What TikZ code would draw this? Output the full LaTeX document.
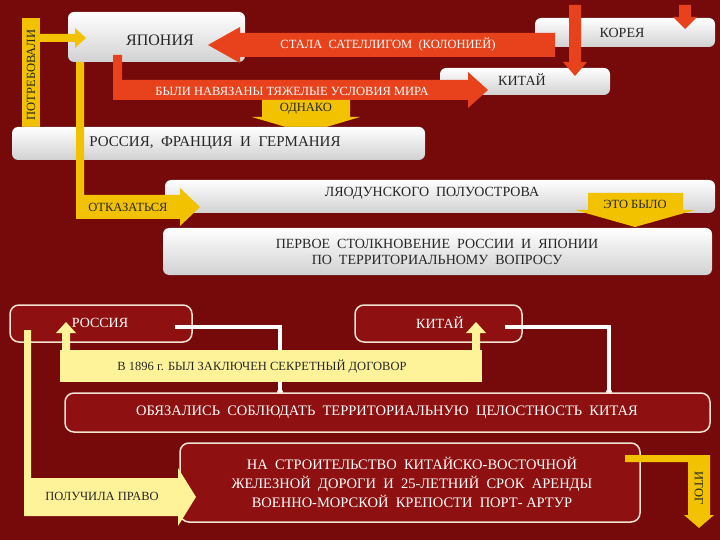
\documentclass[tikz,border=0pt]{standalone}
\usepackage{fontspec}
\setmainfont{Liberation Serif}
\begin{document}
\begin{tikzpicture}[x=1pt,y=-1pt,
  bx/.style={rounded corners=6pt,top color=white,bottom color=black!18,draw=none},
  rb/.style={rounded corners=9pt,fill=dred,draw=bord,line width=1.5pt},
  tx/.style={font=\fontsize{14}{15}\selectfont,text=black!85,align=center},
  wt/.style={font=\fontsize{14}{15}\selectfont,text=white,align=center},
  sm/.style={font=\fontsize{12.5}{13}\selectfont},
  redar/.style={fill=rarr,draw=none},
  yel/.style={fill=yarr,draw=none},
  lyel/.style={fill=lyarr,draw=none}]
\definecolor{bgc}{HTML}{760909}
\definecolor{dred}{HTML}{8E1010}
\definecolor{bord}{HTML}{F3E3D3}
\definecolor{rarr}{HTML}{E8421C}
\definecolor{yarr}{HTML}{F2C200}
\definecolor{lyarr}{HTML}{FFF39A}
\useasboundingbox (0,0) rectangle (720,540);
\fill[bgc] (0,0) rectangle (720,540);
% top boxes
\fill[bx] (68,12) rectangle (245,62);
\node[tx,font=\fontsize{16}{17}\selectfont] (jp) at (160,40) {ЯПОНИЯ};
\fill[bx] (535,18) rectangle (715,47);
\node[tx] (kr) at (622,33) {КОРЕЯ};
\fill[bx] (440,68) rectangle (610,95);
\node[tx] (cn) at (522,80) {КИТАЙ};
% red arrows
\fill[redar] (555,33) -- (240,33) -- (240,27) -- (208,45) -- (240,63) -- (240,57) -- (555,57) -- cycle;
\node[wt,sm] (sat) at (388,45) {СТАЛА \ САТЕЛЛИГОМ \ (КОЛОНИЕЙ)};
\fill[redar] (569,5) -- (581,5) -- (581,62) -- (587,62) -- (575,76) -- (563,62) -- (569,62) -- cycle;
\fill[redar] (679,5) -- (691,5) -- (691,17) -- (697,17) -- (685,29) -- (673,17) -- (679,17) -- cycle;
\fill[redar] (113,55) -- (122,55) -- (122,80) -- (468,80) -- (468,72) -- (488,90) -- (468,108) -- (468,100) -- (113,100) -- cycle;
\node[wt,sm] (mir) at (292,91) {БЫЛИ НАВЯЗАНЫ ТЯЖЕЛЫЕ УСЛОВИЯ МИРА};
% yellow left
\fill[yel] (22,18) rectangle (40,150);
\node[tx,sm,rotate=90] (potr) at (31,75) {ПОТРЕБОВАЛИ};
\fill[yel] (40,34) -- (75,34) -- (75,28) -- (86,38) -- (75,48) -- (75,42) -- (40,42) -- cycle;
% odnako
\fill[yel] (262,100) -- (350,100) -- (350,117) -- (360,117) -- (306,133) -- (252,117) -- (262,117) -- cycle;
\node[tx,sm] (odn) at (306,109) {ОДНАКО};
\fill[bx] (12,127) rectangle (425,160);
\node[tx,font=\fontsize{15}{16}\selectfont] (rfg) at (215,143) {РОССИЯ, \ ФРАНЦИЯ \ И \ ГЕРМАНИЯ};
% otkazatsya
\fill[bx] (165,180) rectangle (715,213);
\node[tx] (lyao) at (432,193) {ЛЯОДУНСКОГО \ ПОЛУОСТРОВА};
\fill[yel] (76,62) -- (84,62) -- (84,195) -- (180,195) -- (180,188) -- (200,207) -- (180,226) -- (180,219) -- (76,219) -- cycle;
\node[tx,sm] (otk) at (128,207) {ОТКАЗАТЬСЯ};
\fill[bx] (163,228) rectangle (712,275);
\fill[yel] (588,193) -- (683,193) -- (683,210) -- (695,210) -- (635,227) -- (575,210) -- (588,210) -- cycle;
\node[tx,sm] (eto) at (635,204) {ЭТО БЫЛО};
\node[tx,font=\fontsize{14}{16}\selectfont] (perv) at (437,252) {ПЕРВОЕ \ СТОЛКНОВЕНИЕ \ РОССИИ \ И \ ЯПОНИИ\\ПО \ ТЕРРИТОРИАЛЬНОМУ \ ВОПРОСУ};
% lower part
\draw[rb] (10,305) rectangle (192,342);
\node[wt] (ru) at (100,323) {РОССИЯ};
\draw[rb] (355,305) rectangle (522,342);
\node[wt] (cn2) at (440,323) {КИТАЙ};
% white connectors
\coordinate (w1) at (280,392);
\coordinate (w2) at (609,392);
\draw[white,line width=4pt] (175,327) -| (w1);
\fill[white] (w1) circle (3);
\draw[white,line width=4pt] (505,327) -| (w2);
\fill[white] (w2) circle (3);
% secret treaty
\fill[lyel] (60,350) rectangle (482,382);
\fill[lyel] (62,350) -- (62,333) -- (56,333) -- (66,322) -- (76,333) -- (70,333) -- (70,350) -- cycle;
\fill[lyel] (472,350) -- (472,333) -- (466,333) -- (476,322) -- (486,333) -- (480,333) -- (480,350) -- cycle;
\node[tx,sm] (dog) at (262,367) {В 1896 г. БЫЛ ЗАКЛЮЧЕН СЕКРЕТНЫЙ ДОГОВОР};
\draw[rb] (65,393) rectangle (710,432);
\node[wt,font=\fontsize{14.5}{15}\selectfont] (obz) at (387,412) {ОБЯЗАЛИСЬ \ СОБЛЮДАТЬ \ ТЕРРИТОРИАЛЬНУЮ \ ЦЕЛОСТНОСТЬ \ КИТАЯ};
\draw[rb] (180,443) rectangle (640,522);
% poluchila pravo
\fill[lyel] (24,330) -- (31,330) -- (31,478) -- (178,478) -- (178,468) -- (196,497) -- (178,526) -- (178,516) -- (24,516) -- cycle;
\node[tx,sm] (pol) at (102,496) {ПОЛУЧИЛА ПРАВО};
\node[wt,font=\fontsize{14.5}{19}\selectfont] (str) at (412,482) {НА \ СТРОИТЕЛЬСТВО \ КИТАЙСКО-ВОСТОЧНОЙ\\ЖЕЛЕЗНОЙ \ ДОРОГИ \ И \ 25-ЛЕТНИЙ \ СРОК \ АРЕНДЫ\\ВОЕННО-МОРСКОЙ \ КРЕПОСТИ \ ПОРТ- АРТУР};
% itog
\fill[yel] (625,455) -- (710,455) -- (710,515) -- (714,515) -- (699,528) -- (684,515) -- (688,515) -- (688,462) -- (625,462) -- cycle;
\node[tx,sm,rotate=-90] (itog) at (699,488) {ИТОГ};
\end{tikzpicture}
\end{document}
